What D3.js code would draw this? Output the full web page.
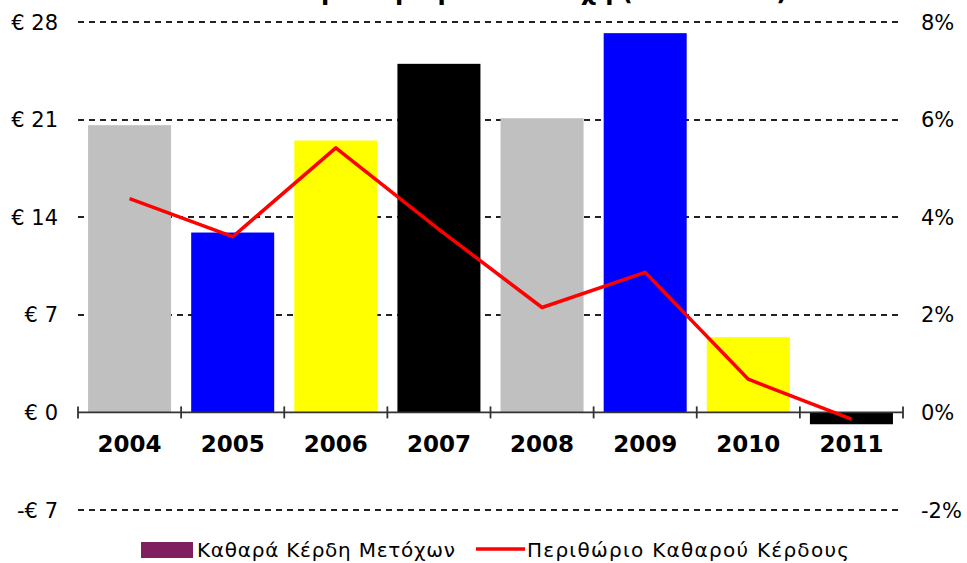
<!DOCTYPE html>
<html>
<head>
<meta charset="utf-8">
<script src="https://cdn.jsdelivr.net/npm/d3@7"></script>
<style>
  html, body { margin: 0; padding: 0; background: #fff; overflow: hidden; }
  text { font-family: "DejaVu Sans", sans-serif; fill: #000; }
</style>
</head>
<body>
<div id="chart"></div>
<script>
const years = ["2004", "2005", "2006", "2007", "2008", "2009", "2010", "2011"]
const earnings = [20.6, 12.9, 19.5, 25.0, 21.1, 27.2, 5.4, -0.85]
const margin = [4.38, 3.6, 5.42, 3.75, 2.15, 2.87, 0.68, -0.14]
const leftTicks = [-7, 0, 7, 14, 21, 28]
const rightTicks = [-2, 0, 2, 4, 6, 8]
const barColors = ["#C0C0C0", "#0000FF", "#FFFF00", "#000000"]
const legendItems = ["Καθαρά Κέρδη Μετόχων", "Περιθώριο Καθαρού Κέρδους"]
const title = "Καθαρά Κέρδη ανά Μετοχή (2004-2011)"

const width = 967, height = 563
const plot = {left: 78, right: 903, top: 22, bottom: 510}

const svg = d3.select("#chart").append("svg")
  .attr("width", width)
  .attr("height", height)

const x = d3.scaleBand()
  .domain(years)
  .range([plot.left, plot.right])
  .paddingInner(0.195)
  .paddingOuter(0.0975)

const y = d3.scaleLinear().domain([-7, 28]).range([plot.bottom, plot.top])
const y2 = d3.scaleLinear().domain([-2, 8]).range([plot.bottom, plot.top])

// title, cut by the top edge like in the original
svg.append("text")
  .attr("x", 520)
  .attr("y", 0)
  .attr("text-anchor", "middle")
  .attr("font-weight", "bold")
  .attr("font-size", 24)
  .text(title)

// dashed gridlines
svg.append("g")
  .selectAll("line")
  .data(leftTicks.filter(d => d != 0))
  .join("line")
    .attr("x1", plot.left)
    .attr("x2", plot.right)
    .attr("y1", d => Math.round(y(d)))
    .attr("y2", d => Math.round(y(d)))
    .attr("stroke", "#222")
    .attr("stroke-width", 2)
    .attr("stroke-dasharray", "6,5")

// bars
svg.append("g")
  .selectAll("rect")
  .data(years)
  .join("rect")
    .attr("x", d => x(d))
    .attr("width", x.bandwidth())
    .attr("y", (d, i) => y(Math.max(0, earnings[i])))
    .attr("height", (d, i) => Math.abs(y(earnings[i]) - y(0)))
    .attr("fill", (d, i) => barColors[i % barColors.length])

// x axis line with ticks crossing it
const axisG = svg.append("g")
axisG.append("line")
  .attr("x1", plot.left)
  .attr("x2", plot.right)
  .attr("y1", y(0))
  .attr("y2", y(0))
  .attr("stroke", "#333")
  .attr("stroke-width", 1.8)

const tickXs = years.map(d => x(d) - x.step() * x.paddingInner() / 2).concat([plot.right])
axisG.selectAll("line.tick")
  .data(tickXs)
  .join("line")
    .attr("class", "tick")
    .attr("x1", d => d)
    .attr("x2", d => d)
    .attr("y1", y(0) - 6)
    .attr("y2", y(0) + 6)
    .attr("stroke", "#333")
    .attr("stroke-width", 1.8)

axisG.selectAll("text")
  .data(years)
  .join("text")
    .attr("x", d => x(d) + x.bandwidth() / 2)
    .attr("y", 452)
    .attr("text-anchor", "middle")
    .attr("font-weight", "bold")
    .attr("font-size", 23)
    .text(d => d)

// left axis labels
svg.append("g")
  .selectAll("text")
  .data(leftTicks)
  .join("text")
    .attr("x", 58)
    .attr("y", d => y(d))
    .attr("dy", "0.36em")
    .attr("text-anchor", "end")
    .attr("font-size", 21)
    .text(d => (d < 0 ? "-" : "") + "€ " + Math.abs(d))

// right axis labels
svg.append("g")
  .selectAll("text")
  .data(rightTicks)
  .join("text")
    .attr("x", 921)
    .attr("y", d => y2(d))
    .attr("dy", "0.36em")
    .attr("text-anchor", "start")
    .attr("font-size", 21)
    .text(d => d + "%")

// margin line
const line = d3.line()
  .x((d, i) => x(years[i]) + x.bandwidth() / 2)
  .y(d => y2(d))

svg.append("path")
  .datum(margin)
  .attr("d", line)
  .attr("fill", "none")
  .attr("stroke", "#FF0000")
  .attr("stroke-width", 3.5)
  .attr("stroke-linejoin", "round")

// legend
const legend = svg.append("g")
legend.append("rect")
  .attr("x", 141)
  .attr("y", 542)
  .attr("width", 52)
  .attr("height", 16)
  .attr("fill", "#7F1F5F")
legend.append("text")
  .attr("x", 197)
  .attr("y", 557)
  .attr("font-size", 20)
  .attr("textLength", 258)
  .text(legendItems[0])
legend.append("line")
  .attr("x1", 476)
  .attr("x2", 525)
  .attr("y1", 549)
  .attr("y2", 549)
  .attr("stroke", "#FF0000")
  .attr("stroke-width", 3.5)
legend.append("text")
  .attr("x", 527)
  .attr("y", 557)
  .attr("font-size", 20)
  .attr("textLength", 322)
  .text(legendItems[1])
</script>
</body>
</html>
